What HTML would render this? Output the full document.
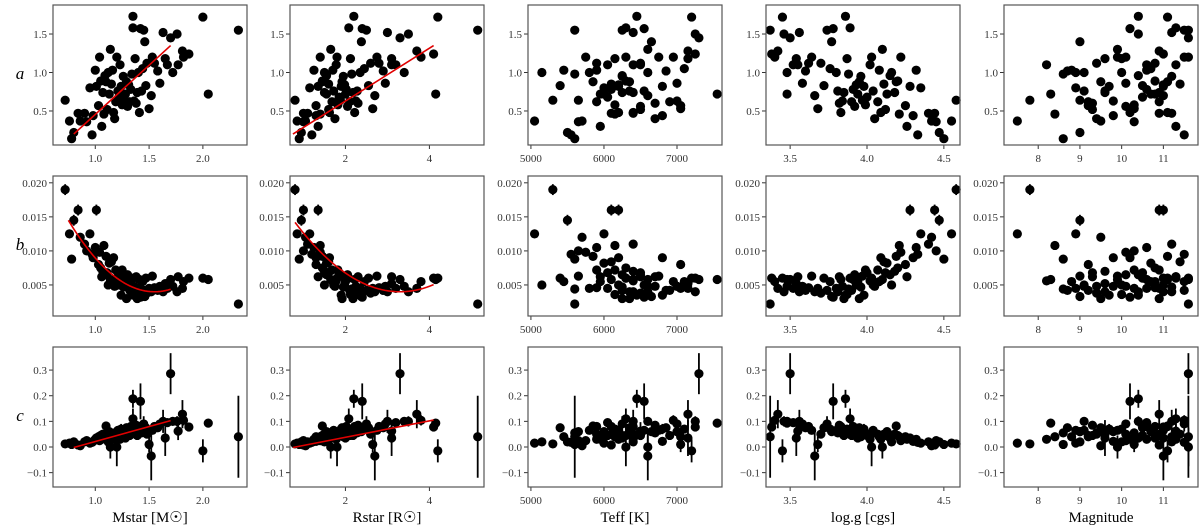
<!DOCTYPE html>
<html><head><meta charset="utf-8"><style>
body{margin:0;background:#fff}
svg{display:block;font-family:"Liberation Serif",serif}
</style></head><body>
<svg id="fig" width="1200" height="530" viewBox="0 0 1200 530" xmlns="http://www.w3.org/2000/svg"></svg>
<script>
// star data: M, R, Teff, logg, mag, a, b, c
const mstar=[0.72,0.76,0.78,0.80,0.84,0.86,0.90,0.92,0.95,0.97,0.98,1.00,1.01,1.03,1.04,1.05,1.06,1.07,1.08,1.09,1.10,1.11,1.12,1.13,1.14,1.15,1.16,1.17,1.18,1.19,1.20,1.21,1.22,1.23,1.24,1.25,1.26,1.27,1.28,1.29,1.30,1.31,1.32,1.33,1.34,1.35,1.35,1.36,1.37,1.38,1.39,1.40,1.41,1.42,1.43,1.44,1.45,1.46,1.47,1.48,1.50,1.52,1.53,1.55,1.58,1.60,1.63,1.65,1.67,1.70,1.72,1.76,1.77,1.81,1.82,1.87,2.00,2.05,2.33];
const rstar=[0.80,0.85,0.90,0.95,1.00,1.05,1.10,1.00,1.15,1.20,1.30,1.25,1.35,1.30,1.40,1.45,1.35,1.50,1.40,1.55,1.45,1.60,1.50,1.55,1.65,1.60,1.70,1.62,1.75,1.68,1.80,1.72,1.85,1.78,1.90,1.82,1.95,1.88,2.00,1.92,2.05,1.98,2.10,2.02,2.15,2.20,2.08,2.25,2.12,2.30,2.18,2.35,2.22,2.40,2.28,2.45,2.50,2.38,2.55,2.60,2.65,2.70,2.75,2.80,2.90,2.95,3.00,3.10,3.20,3.30,3.40,3.50,3.10,3.70,3.80,4.10,4.20,4.15,5.15];
const teff=[5300,5050,5600,5500,6100,5700,6400,5650,6000,5550,6800,5900,6200,7050,5750,6300,5950,6400,6150,6250,5850,6500,5150,6000,6600,6100,5450,6200,6700,5900,6300,6550,6050,6400,6800,6150,6250,5650,5950,6350,6500,6200,6900,6100,5600,6450,6300,7000,6150,6700,6250,5800,6400,6550,6350,7100,6250,6650,5400,6500,7050,6600,6750,5900,6850,7000,6400,7150,6050,7300,6600,7250,6500,7150,6950,7250,7200,7550,5600];
const logg=[4.58,4.55,4.50,4.47,4.44,4.42,4.40,4.45,4.35,4.33,4.30,4.32,4.28,4.25,4.22,4.20,4.26,4.18,4.21,4.15,4.19,4.12,4.16,4.13,4.10,4.11,4.08,4.09,4.05,4.07,4.03,4.04,4.00,4.02,3.98,3.99,3.96,3.97,3.94,3.95,3.92,3.93,3.90,3.91,3.88,3.86,3.89,3.84,3.87,3.82,3.85,3.80,3.83,3.78,3.81,3.76,3.74,3.77,3.72,3.70,3.68,3.66,3.64,3.62,3.60,3.58,3.56,3.54,3.52,3.50,3.48,3.46,3.55,3.42,3.40,3.38,3.45,3.48,3.37];
const magnitude=[7.8,7.5,8.6,9.0,10.9,9.5,11.2,10.3,8.9,11.5,9.8,10.6,11.0,9.2,10.1,10.8,11.3,9.6,8.4,10.4,11.1,9.3,10.0,10.7,9.9,11.4,8.8,10.2,9.4,10.9,11.6,9.1,10.5,8.2,9.7,10.3,11.2,9.0,10.8,9.5,10.1,11.0,9.2,10.6,8.6,10.4,11.3,9.8,10.0,9.3,10.9,8.9,11.1,10.2,9.6,10.7,11.5,9.0,10.5,9.4,10.3,11.0,9.9,10.8,8.7,10.1,11.2,9.6,10.6,11.6,9.1,10.4,11.3,10.9,11.5,11.0,11.1,8.3,11.6];
const aVal=[0.64,0.37,0.14,0.22,0.47,0.37,0.47,0.36,0.80,0.19,0.44,1.03,0.82,0.57,1.20,0.89,0.30,0.74,0.46,0.96,0.88,0.52,1.00,0.72,1.30,0.85,1.03,0.48,0.40,0.62,1.20,0.76,0.68,1.10,0.82,0.58,0.95,0.64,0.72,0.88,0.56,0.84,0.62,0.78,0.98,1.73,1.58,0.63,1.18,0.60,0.74,1.00,0.48,1.57,0.76,1.05,1.55,1.40,0.83,1.12,0.53,0.70,1.20,1.12,1.02,0.86,1.52,1.18,1.10,1.45,1.00,1.50,1.10,1.28,1.20,1.24,1.72,0.72,1.55];
const bVal=[0.0190,0.0125,0.0088,0.0145,0.0160,0.0120,0.0110,0.0100,0.0125,0.0095,0.0090,0.0105,0.0160,0.0080,0.0098,0.0075,0.0062,0.0070,0.0108,0.0065,0.0092,0.0068,0.0050,0.0082,0.0058,0.0084,0.0055,0.0090,0.0048,0.0072,0.0060,0.0050,0.0068,0.0056,0.0035,0.0072,0.0047,0.0063,0.0055,0.0030,0.0065,0.0050,0.0042,0.0058,0.0044,0.0035,0.0060,0.0048,0.0036,0.0062,0.0030,0.0045,0.0058,0.0032,0.0040,0.0055,0.0042,0.0033,0.0060,0.0038,0.0045,0.0040,0.0063,0.0046,0.0042,0.0048,0.0040,0.0052,0.0045,0.0058,0.0048,0.0040,0.0062,0.0045,0.0055,0.0060,0.0060,0.0058,0.0022];
const cVal=[0.012,0.015,0.010,0.020,0.008,0.005,0.020,0.025,0.015,0.018,0.022,0.030,0.035,0.040,0.025,0.045,0.030,0.050,0.040,0.035,0.082,0.045,0.020,0.060,0.000,0.050,0.040,0.030,0.055,0.050,0.000,0.065,0.045,0.030,0.070,0.055,0.040,0.060,0.035,0.075,0.050,0.065,0.045,0.080,0.055,0.188,0.110,0.060,0.070,0.085,0.045,0.065,0.080,0.178,0.055,0.070,0.090,0.060,0.075,0.050,0.010,-0.035,0.065,0.080,0.075,0.090,0.100,0.035,0.095,0.286,0.100,0.100,0.062,0.128,0.104,0.078,-0.015,0.093,0.040];
const cErr=[0.004,0.004,0.004,0.004,0.004,0.004,0.004,0.004,0.004,0.004,0.004,0.004,0.004,0.004,0.004,0.004,0.004,0.004,0.004,0.004,0.015,0.004,0.004,0.004,0.045,0.004,0.004,0.004,0.004,0.004,0.075,0.004,0.004,0.004,0.02,0.004,0.004,0.004,0.004,0.004,0.004,0.004,0.004,0.004,0.004,0.035,0.04,0.004,0.004,0.004,0.004,0.004,0.004,0.07,0.004,0.004,0.03,0.004,0.004,0.004,0.03,0.095,0.004,0.004,0.004,0.004,0.045,0.07,0.004,0.08,0.004,0.02,0.035,0.055,0.02,0.01,0.045,0.012,0.16];
// panels
const xNames=["Mstar [M\u2609]","Rstar [R\u2609]","Teff [K]","log.g [cgs]","Magnitude"];
const xDomains=[[0.607,2.41],[0.68,5.3],[4960,7616],[3.343,4.605],[7.18,11.83]];
const xTicks=[[1.0,1.5,2.0],[2,4],[5000,6000,7000],[3.5,4.0,4.5],[8,9,10,11]];
const xTickLabels=[["1.0","1.5","2.0"],["2","4"],["5000","6000","7000"],["3.5","4.0","4.5"],["8","9","10","11"]];
const yNames=["a","b","c"];
const yDomains=[[0.058,1.877],[0.00044,0.021],[-0.156,0.39]];
const yTicks=[[0.5,1.0,1.5],[0.005,0.010,0.015,0.020],[-0.1,0.0,0.1,0.2,0.3]];
const yTickLabels=[["0.5","1.0","1.5"],["0.005","0.010","0.015","0.020"],["\u22120.1","0.0","0.1","0.2","0.3"]];
// red fits: linear [x0,x1,y0,y1], quadratic [x0,x1,A,xmin,ymin]
const fitLinA=[[0.8,1.7,0.2,1.35],[0.75,4.1,0.2,1.35]];
const fitQuadB=[[0.75,1.7,0.0164,1.55,0.004],[0.8,4.1,0.00163,3.3,0.004]];
const fitLinC=[[0.8,1.7,-0.002,0.103],[0.75,4.1,-0.002,0.105]];

const xCols=[mstar,rstar,teff,logg,magnitude];
const yRows=[aVal,bVal,cVal];
const lefts=[53,290,528,766,1004], tops=[5,176,347], W=194, H=140;
const svg=document.getElementById('fig');
const NS="http://www.w3.org/2000/svg";
function mk(tag,attrs,parent){const e=document.createElementNS(NS,tag);for(const k in attrs)e.setAttribute(k,attrs[k]);(parent||svg).appendChild(e);return e;}
for(let r=0;r<3;r++){for(let c=0;c<5;c++){
  const L=lefts[c],T=tops[r];
  const g=mk('g',{});
  
  
  const xd=xDomains[c],yd=yDomains[r];
  const sx=v=>L+(v-xd[0])/(xd[1]-xd[0])*W;
  const sy=v=>T+H-(v-yd[0])/(yd[1]-yd[0])*H;
  yTicks[r].forEach((t,i)=>{const y=sy(t);mk('line',{x1:L-4,x2:L,y1:y,y2:y,stroke:'#333','stroke-width':1},g);
    const tx=mk('text',{x:L-6,y:y+4,'text-anchor':'end','font-size':11,fill:'#333'},g);tx.textContent=yTickLabels[r][i];});
  xTicks[c].forEach((t,i)=>{const x=sx(t);mk('line',{x1:x,x2:x,y1:T+H,y2:T+H+4,stroke:'#333','stroke-width':1},g);
    const tx=mk('text',{x:x,y:T+H+17,'text-anchor':'middle','font-size':11,fill:'#333'},g);tx.textContent=xTickLabels[c][i];});
  const xs=xCols[c],ys=yRows[r];
  for(let i=0;i<xs.length;i++){
    const x=sx(xs[i]),y=sy(ys[i]);
    let e;
    if(r===2)e=cErr[i];else if(r===0)e=ys[i]>1.4?0.05:0.02;else e=ys[i]>0.013?0.0008:0.0003;
    const el=mk('line',{x1:x,x2:x,y1:sy(ys[i]+e),y2:sy(ys[i]-e),stroke:'#000','stroke-width':1.8},g);
    
    
    const p=mk('circle',{cx:x,cy:y,r:4.6,fill:'#000'},g);
    
    
  }
  if(c<2){
    let d='';
    if(r===0){const f=fitLinA[c];d=`M${sx(f[0])},${sy(f[2])}L${sx(f[1])},${sy(f[3])}`;}
    else if(r===2){const f=fitLinC[c];d=`M${sx(f[0])},${sy(f[2])}L${sx(f[1])},${sy(f[3])}`;}
    else{const f=fitQuadB[c];for(let k=0;k<=40;k++){const xv=f[0]+(f[1]-f[0])*k/40;const yv=f[2]*(xv-f[3])**2+f[4];d+=(k?'L':'M')+sx(xv)+','+sy(yv);}}
    const fl=mk('path',{d:d,stroke:'#e00000','stroke-width':1.6,fill:'none'},g);
    
    
  }
  const fr=mk('rect',{x:L,y:T,width:W,height:H,fill:'none',stroke:'#555','stroke-width':1.2},g);
  
  
}}
yNames.forEach((n,r)=>{const t=mk('text',{x:20,y:tops[r]+H/2+4,'text-anchor':'middle','font-size':17,'font-style':'italic'});t.textContent=n;
  
  });
xNames.forEach((n,c)=>{const t=mk('text',{x:lefts[c]+W/2,y:522,'text-anchor':'middle','font-size':15});t.textContent=n;
  
  });
</script>
</body></html>
